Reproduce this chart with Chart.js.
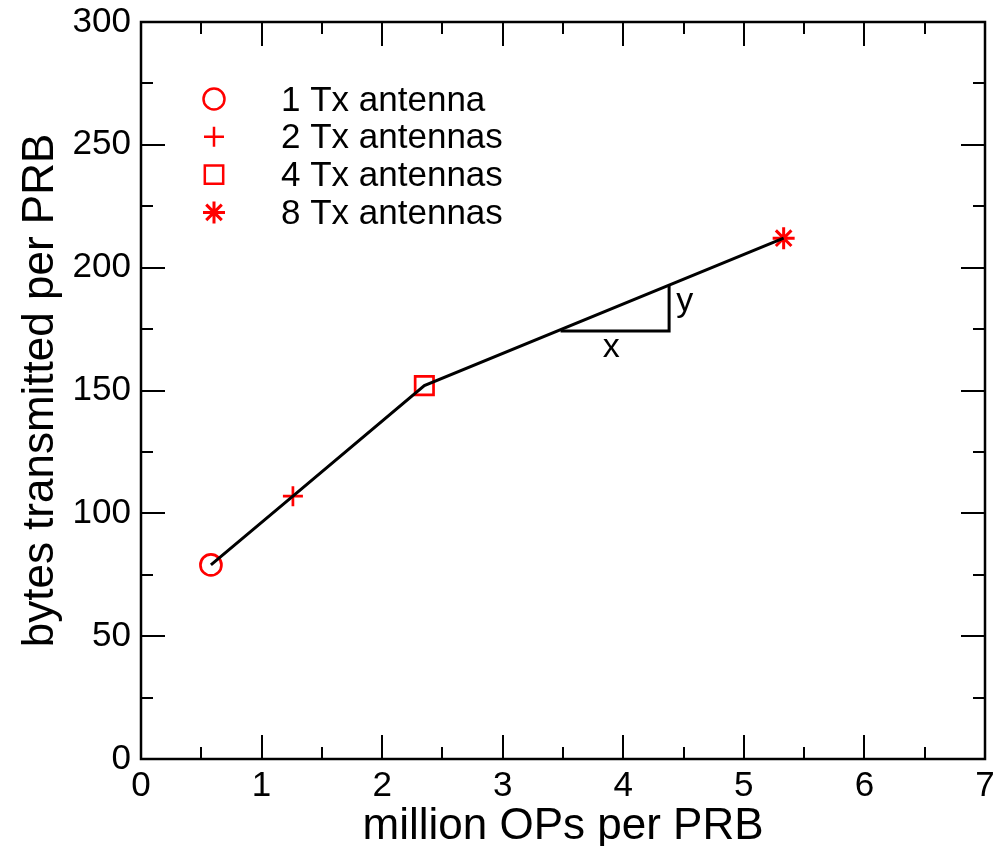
<!DOCTYPE html>
<html>
<head>
<meta charset="utf-8">
<script src="https://cdn.jsdelivr.net/npm/chart.js@4/dist/chart.umd.min.js"></script>
<style>
  body { margin: 0; background: #fff; }
  #wrap { width: 1001px; height: 846px; }
</style>
</head>
<body>
<div id="wrap"><canvas id="opsChart" width="1001" height="846"></canvas></div>
<script>
// data
const antennaLabels = ['1 Tx antenna', '2 Tx antennas', '4 Tx antennas', '8 Tx antennas'];
const opsPerPrb = [0.58, 1.26, 2.35, 5.33];       // million OPs per PRB
const bytesPerPrb = [79, 107, 152, 212];          // bytes transmitted per PRB
const markerStyles = ['circle', 'cross', 'rect', 'star'];
const markerRadius = [10.5, 10, 13, 11];

// slope triangle drawn under the last segment
const triangleX = [3.48, 4.38, 4.38];
const triangleY = [174.2, 174.2, 192.9];
const triangleText = [
  { text: 'x', x: 3.90, y: 163.6, align: 'center' },
  { text: 'y', x: 4.44, y: 182.5, align: 'left' }
];

const xTicks = [0, 1, 2, 3, 4, 5, 6, 7];
const yTicks = [0, 50, 100, 150, 200, 250, 300];

const FONT = '"Liberation Sans", Arial, Helvetica, sans-serif';
const RED = '#ff0000';

Chart.defaults.font.family = FONT;
Chart.defaults.color = '#000';

// frame + inward ticks on all four sides, legend, x/y slope labels
const framePlugin = {
  id: 'frame',
  beforeDatasetsDraw(chart){
    const {ctx, chartArea: a, scales} = chart;
    const xs = scales.x, ys = scales.y;
    ctx.save();
    ctx.strokeStyle = '#000';
    ctx.lineWidth = 2;
    ctx.beginPath();
    for(let v = 0; v <= 7.001; v += 0.5){
      const px = Math.round(xs.getPixelForValue(v));
      const len = Math.abs(v % 1) < 1e-6 ? 24 : 12;
      ctx.moveTo(px, a.bottom); ctx.lineTo(px, a.bottom - len);
      ctx.moveTo(px, a.top); ctx.lineTo(px, a.top + len);
    }
    for(let v = 0; v <= 300.01; v += 25){
      const py = Math.round(ys.getPixelForValue(v));
      const len = v % 50 === 0 ? 24 : 12;
      ctx.moveTo(a.left, py); ctx.lineTo(a.left + len, py);
      ctx.moveTo(a.right, py); ctx.lineTo(a.right - len, py);
    }
    ctx.stroke();
    ctx.lineWidth = 2.5;
    ctx.strokeRect(a.left, a.top, a.right - a.left, a.bottom - a.top);
    ctx.restore();
  },
  afterDraw(chart){
    const {ctx, chartArea: a, scales} = chart;
    ctx.save();
    // legend
    ctx.font = '35px ' + FONT;
    ctx.textBaseline = 'middle';
    ctx.textAlign = 'left';
    antennaLabels.forEach((lab, i) => {
      const cy = a.top + 77 + i * 37.8;
      const cx = a.left + 73;
      ctx.strokeStyle = RED;
      ctx.fillStyle = 'rgba(0,0,0,0)';
      ctx.lineWidth = markerStyles[i] === 'star' ? 3 : 2.5;
      Chart.helpers.drawPoint(ctx, {pointStyle: markerStyles[i], radius: markerRadius[i], borderWidth: ctx.lineWidth}, cx, cy);
      ctx.fillStyle = '#000';
      ctx.fillText(lab, a.left + 140, cy + 2);
    });
    // slope labels
    ctx.font = '34px ' + FONT;
    ctx.textBaseline = 'alphabetic';
    triangleText.forEach(t => {
      ctx.textAlign = t.align;
      ctx.fillText(t.text, scales.x.getPixelForValue(t.x), scales.y.getPixelForValue(t.y));
    });
    ctx.restore();
  }
};

const points = opsPerPrb.map((x, i) => ({x: x, y: bytesPerPrb[i]}));

const datasets = [
  {
    label: 'curve',
    data: points,
    showLine: true,
    borderColor: '#000',
    borderWidth: 3,
    pointRadius: 0,
    fill: false
  },
  {
    label: 'triangle',
    data: triangleX.map((x, i) => ({x: x, y: triangleY[i]})),
    showLine: true,
    borderColor: '#000',
    borderWidth: 3,
    pointRadius: 0,
    fill: false
  }
];
points.forEach((p, i) => {
  datasets.push({
    label: antennaLabels[i],
    data: [p],
    pointStyle: markerStyles[i],
    pointRadius: markerRadius[i],
    pointBorderColor: RED,
    pointBackgroundColor: 'rgba(0,0,0,0)',
    pointBorderWidth: markerStyles[i] === 'star' ? 3 : 2.7,
    showLine: false
  });
});

new Chart(document.getElementById('opsChart'), {
  type: 'scatter',
  data: { datasets: datasets },
  options: {
    responsive: false,
    animation: false,
    events: [],
    layout: { padding: { top: 22, right: 16, left: 0, bottom: 0 } },
    plugins: { legend: { display: false }, tooltip: { enabled: false } },
    scales: {
      x: {
        type: 'linear',
        min: 0, max: 7,
        afterBuildTicks: s => { s.ticks = xTicks.map(v => ({value: v})); },
        afterFit: s => { s.height = 87; s.paddingLeft = 0; s.paddingRight = 0; },
        grid: { display: false, drawTicks: false },
        border: { display: false },
        ticks: { font: { size: 35 }, padding: 6, color: '#000', maxRotation: 0 },
        title: { display: true, text: 'million OPs per PRB', font: { size: 44 }, color: '#000', padding: { top: 0, bottom: -7 } }
      },
      y: {
        type: 'linear',
        min: 0, max: 300,
        afterBuildTicks: s => { s.ticks = yTicks.map(v => ({value: v})); },
        afterFit: s => { s.width = 141; s.paddingTop = 0; s.paddingBottom = 0; },
        grid: { display: false, drawTicks: false },
        border: { display: false },
        ticks: { font: { size: 35 }, padding: 10, color: '#000' },
        title: { display: true, text: 'bytes transmitted per PRB', font: { size: 44 }, color: '#000', padding: { top: 14, bottom: 0 } }
      }
    }
  },
  plugins: [framePlugin]
});
</script>
</body>
</html>
